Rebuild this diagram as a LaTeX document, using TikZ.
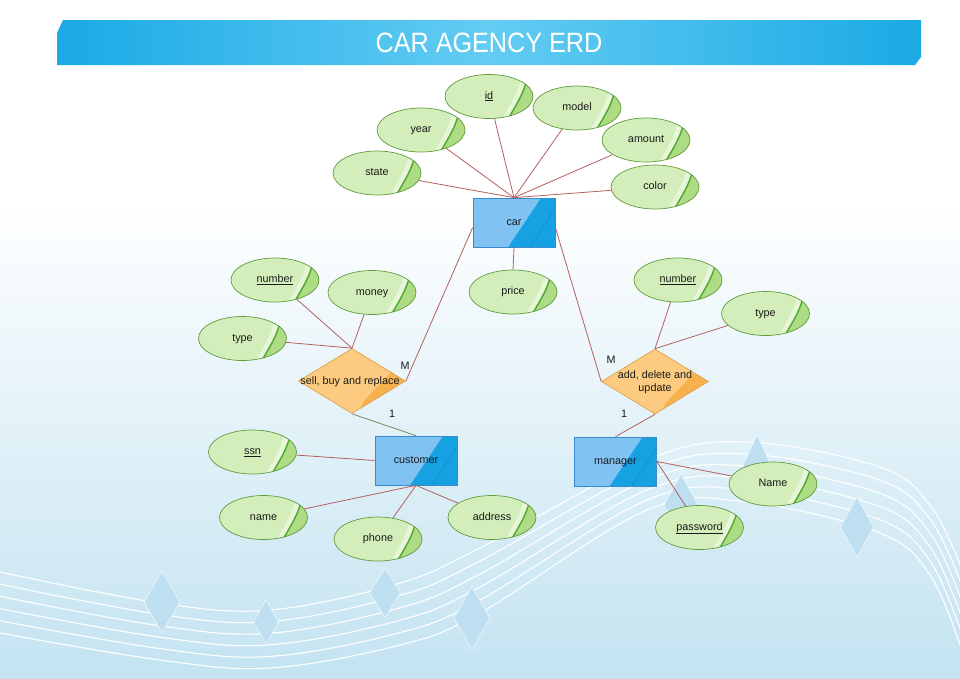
\documentclass[tikz,border=0pt]{standalone}
\usepackage{fontspec}
\setmainfont{Liberation Sans}
\newfontfamily\titlefont[FakeStretch=0.9]{Liberation Sans}
\usetikzlibrary{shapes.geometric,calc}
\definecolor{bgbot}{HTML}{C3E3F1}
\definecolor{decofill}{HTML}{BEDFF0}
\definecolor{tbar}{HTML}{1AAAE5}
\definecolor{tbarl}{HTML}{63CCF3}
\definecolor{attrfill}{HTML}{D4EEBB}
\definecolor{attrmid}{HTML}{ADDC84}
\definecolor{attrline}{HTML}{4FA82E}
\definecolor{attrborder}{HTML}{5E9C3C}
\definecolor{entfill}{HTML}{80C3F2}
\definecolor{entdark}{HTML}{16A2E2}
\definecolor{entline}{HTML}{1590CC}
\definecolor{entborder}{HTML}{3A8BCB}
\definecolor{relfill}{HTML}{FDCB80}
\definecolor{reldark}{HTML}{F6B14C}
\definecolor{relborder}{HTML}{DDA34E}
\definecolor{conn}{HTML}{B5605E}
\definecolor{conngreen}{HTML}{6F8C5E}
\definecolor{txt}{HTML}{1A1A1A}
\tikzset{
  bodyfont/.style={font=\fontsize{10.8}{13}\selectfont, text=txt},
  attr/.style={ellipse, draw=attrborder, line width=0.7pt, fill=attrfill,
    minimum width=88pt, minimum height=44pt, inner sep=0pt, bodyfont,
    text height=1.2ex, text depth=0.25ex,
    path picture={
      \fill[attrmid] let \p1=(path picture bounding box.south west), \p2=(path picture bounding box.north east) in
        ({\x1+0.95*(\x2-\x1)},{\y2}) .. controls ({\x1+0.88*(\x2-\x1)},{\y2-0.45*(\y2-\y1)}) .. ({\x1+0.72*(\x2-\x1)},{\y1}) -- (\x2,\y1) -- (\x2,\y2) -- cycle;
      \fill[white, opacity=0.45] let \p1=(path picture bounding box.south west), \p2=(path picture bounding box.north east) in
        ({\x1+0.95*(\x2-\x1)},{\y2}) .. controls ({\x1+0.88*(\x2-\x1)},{\y2-0.45*(\y2-\y1)}) .. ({\x1+0.72*(\x2-\x1)},{\y1})
        -- ({\x1+0.65*(\x2-\x1)},{\y1}) .. controls ({\x1+0.81*(\x2-\x1)},{\y2-0.45*(\y2-\y1)}) .. ({\x1+0.88*(\x2-\x1)},{\y2}) -- cycle;
      \draw[attrline, line width=1.4pt] let \p1=(path picture bounding box.south west), \p2=(path picture bounding box.north east) in
        ({\x1+0.95*(\x2-\x1)},{\y2}) .. controls ({\x1+0.88*(\x2-\x1)},{\y2-0.45*(\y2-\y1)}) .. ({\x1+0.72*(\x2-\x1)},{\y1});
    }},
  ent/.style={rectangle, draw=entborder, line width=0.7pt, fill=entfill,
    minimum width=82pt, minimum height=49pt, inner sep=0pt, bodyfont,
    text height=1.2ex, text depth=0.25ex,
    path picture={
      \fill[entdark] let \p1=(path picture bounding box.south west), \p2=(path picture bounding box.north east) in
        ({\x1+0.83*(\x2-\x1)},{\y2}) -- (\x2,\y2) -- (\x2,\y1) -- ({\x1+0.43*(\x2-\x1)},{\y1}) -- cycle;
      \draw[entline, line width=0.8pt] let \p1=(path picture bounding box.south west), \p2=(path picture bounding box.north east) in
        (\x2,{\y2-0.22*(\y2-\y1)}) -- ({\x1+0.70*(\x2-\x1)},{\y1});
    }},
  rel/.style={diamond, draw=relborder, line width=0.7pt, fill=relfill,
    minimum width=107pt, minimum height=65pt, inner sep=0pt,
    path picture={
      \fill[reldark] let \p1=(path picture bounding box.south west), \p2=(path picture bounding box.north east) in
        ({\x1+0.86*(\x2-\x1)},{\y2-0.38*(\y2-\y1)}) -- ({\x1+0.60*(\x2-\x1)},{\y2-0.83*(\y2-\y1)})
        -- ({\x1+0.55*(\x2-\x1)},{\y1-5pt}) -- ({\x2+5pt},{\y1-5pt}) -- ({\x2+5pt},{\y2-0.30*(\y2-\y1)}) -- cycle;
    }},
  reltext/.style={bodyfont, align=center, inner sep=0pt},
  card/.style={bodyfont, inner sep=0pt},
  link/.style={draw=conn, line width=0.8pt},
  linkgreen/.style={draw=conngreen, line width=0.8pt},
  deco/.style={fill=decofill, draw=white, draw opacity=0.7, line width=0.6pt},
  wave/.style={draw=white, line width=1.1pt},
  titletext/.style={font=\titlefont\fontsize{28}{30}\selectfont, text=white, inner sep=0pt}
}
\begin{document}
\begin{tikzpicture}[x=1pt,y=-1pt]
\useasboundingbox (0,0) rectangle (960,678);
% background
\fill[white] (0,0) rectangle (960,678);
\shade[top color=white, bottom color=bgbot] (0,200) rectangle (960,678);
\foreach \t in {0,0.2,0.4,0.6,0.8,1}{
  \draw[wave] plot[smooth, tension=0.6] coordinates {(0,{572+61*\t}) (160,{603+57*\t}) (270,{610+58*\t}) (400,{583+62*\t}) (480,{548+65*\t}) (647,{460+50*\t}) (747,{442+60*\t}) (880,{467+66*\t}) (930,{505+70*\t}) (960,{565+80*\t})};
}
\foreach \cx/\cy/\w/\h in {162/602/36/61, 266/622/25/45, 385/593/31/49, 472/618/36/63, 757/465/28/60, 681/505/34/62, 857/527/33/60}{
  \path[deco] (\cx,{\cy-\h/2}) -- ({\cx+\w/2},\cy) -- (\cx,{\cy+\h/2}) -- ({\cx-\w/2},\cy) -- cycle;
}
% title bar
\shade[left color=tbar, right color=tbar, middle color=tbarl] (63,20) -- (921,20) -- (921,57) -- (915,65) -- (57,65) -- (57,33) -- cycle;
\node[titletext] (title) at (489,43) {CAR AGENCY ERD};

% entities
\node[ent] (car) at (514,222.5) {car};
\node[ent] (customer) at (416,460.5) {customer};
\node[ent] (manager) at (615.5,461.5) {manager};

% relationships
\node[rel] (rel1) at (352,381) {};
\node[reltext] (rel1t) at (350,381.5) {sell, buy and replace};
\node[rel] (rel2) at (655,381.5) {};
\node[reltext] (rel2t) at (655,382.5) {add, delete and\\update};

% car attributes
\node[attr] (id) at (489,96.5) {\underline{id}};
\node[attr] (model) at (577,108) {model};
\node[attr] (year) at (421,130) {year};
\node[attr] (amount) at (646,140) {amount};
\node[attr] (state) at (377,173) {state};
\node[attr] (color) at (655,187) {color};
\node[attr] (price) at (513,292) {price};

% relationship attributes
\node[attr] (num1) at (275,280) {\underline{number}};
\node[attr] (money) at (372,292.5) {money};
\node[attr] (type1) at (242.5,338.5) {type};
\node[attr] (num2) at (678,280) {\underline{number}};
\node[attr] (type2) at (765.5,313.5) {type};

% customer attributes
\node[attr] (ssn) at (252.5,452) {\underline{ssn}};
\node[attr] (name) at (263.5,517.5) {name};
\node[attr] (phone) at (378,539) {phone};
\node[attr] (address) at (492,517.5) {address};

% manager attributes
\node[attr] (Name) at (773,484) {Name};
\node[attr] (password) at (699.5,527.5) {\underline{password}};

% connectors
\foreach \a in {id,model,year,amount,state,color}{
  \draw[link] (\a) -- (car.north);
}
\draw[link] (car.south) -- (price.north);
\foreach \a in {num1,money,type1}{
  \draw[link] (\a) -- (rel1.north);
}
\foreach \a in {num2,type2}{
  \draw[link] (\a) -- (rel2.north);
}
\draw[link] (car.187) -- (rel1.east);
\draw[link] (car.353) -- (rel2.west);
\draw[linkgreen] (rel1.south) -- (customer.north);
\draw[link] (rel2.south) -- (manager.north);
\draw[link] (ssn) -- (customer.west);
\foreach \a in {name,phone,address}{
  \draw[link] (\a) -- (customer.south);
}
\foreach \a in {Name,password}{
  \draw[link] (\a) -- (manager.east);
}

% cardinalities
\node[card] (m1) at (405,366) {M};
\node[card] (one1) at (392,414) {1};
\node[card] (m2) at (611,360) {M};
\node[card] (one2) at (624,414) {1};
\end{tikzpicture}
\end{document}
